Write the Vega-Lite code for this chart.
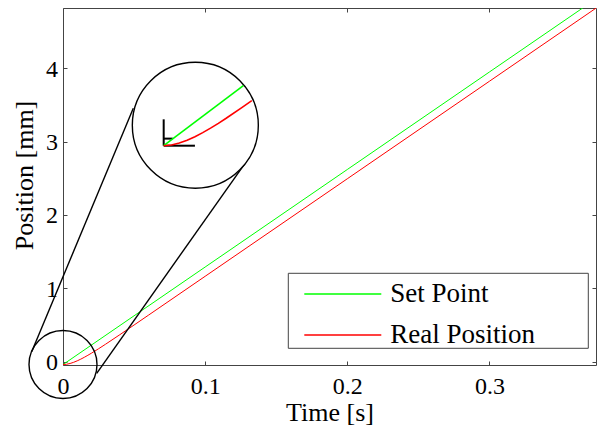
{
  "$schema": "https://vega.github.io/schema/vega-lite/v6.json",
  "width": 533,
  "height": 357,
  "autosize": {"type": "none"},
  "padding": {"left": 63, "top": 8, "right": 1, "bottom": 65},
  "background": "white",
  "config": {
    "font": "Liberation Serif, serif",
    "view": {"stroke": "#444", "strokeWidth": 1},
    "axis": {
      "domain": false,
      "grid": false,
      "tickColor": "#444",
      "tickSize": -4,
      "labelFlush": false,
      "labelFont": "Liberation Serif, serif",
      "labelFontSize": 24,
      "labelColor": "black",
      "titleFont": "Liberation Serif, serif",
      "titleFontSize": 26,
      "titleFontWeight": "normal",
      "titleColor": "black"
    },
    "legend": {
      "orient": "none",
      "legendX": 240.3,
      "legendY": 276,
      "padding": 0,
      "symbolType": "stroke",
      "symbolSize": 5929,
      "symbolStrokeWidth": 1.5,
      "clipHeight": 20,
      "rowPadding": 14,
      "labelOffset": 8,
      "labelFont": "Liberation Serif, serif",
      "labelFontSize": 27,
      "labelColor": "black",
      "labelLimit": 400
    }
  },
  "datasets": {
    "main": [
      {"t": 0, "pos": -0.04, "series": "Set Point"},
      {"t": 0.1, "pos": 1.29, "series": "Set Point"},
      {"t": 0.2, "pos": 2.62, "series": "Set Point"},
      {"t": 0.3, "pos": 3.95, "series": "Set Point"},
      {"t": 0.375, "pos": 4.9475, "series": "Set Point"},
      {"t": 0, "pos": -0.04, "series": "Real Position"},
      {"t": 0.0025, "pos": -0.036, "series": "Real Position"},
      {"t": 0.005, "pos": -0.0252, "series": "Real Position"},
      {"t": 0.0075, "pos": -0.0092, "series": "Real Position"},
      {"t": 0.01, "pos": 0.0108, "series": "Real Position"},
      {"t": 0.0125, "pos": 0.0338, "series": "Real Position"},
      {"t": 0.015, "pos": 0.0592, "series": "Real Position"},
      {"t": 0.0175, "pos": 0.0864, "series": "Real Position"},
      {"t": 0.02, "pos": 0.115, "series": "Real Position"},
      {"t": 0.025, "pos": 0.1752, "series": "Real Position"},
      {"t": 0.03, "pos": 0.238, "series": "Real Position"},
      {"t": 0.04, "pos": 0.3675, "series": "Real Position"},
      {"t": 0.05, "pos": 0.4993, "series": "Real Position"},
      {"t": 0.06, "pos": 0.6318, "series": "Real Position"},
      {"t": 0.1, "pos": 1.1637, "series": "Real Position"},
      {"t": 0.2, "pos": 2.4937, "series": "Real Position"},
      {"t": 0.3, "pos": 3.8237, "series": "Real Position"},
      {"t": 0.375, "pos": 4.8212, "series": "Real Position"}
    ],
    "inset": [
      {"t": 0, "pos": -0.04, "series": "Set Point"},
      {"t": 0.0255, "pos": 0.299, "series": "Set Point"},
      {"t": 0, "pos": -0.04, "series": "Real Position"},
      {"t": 0.0025, "pos": -0.036, "series": "Real Position"},
      {"t": 0.005, "pos": -0.0252, "series": "Real Position"},
      {"t": 0.0075, "pos": -0.0092, "series": "Real Position"},
      {"t": 0.01, "pos": 0.0108, "series": "Real Position"},
      {"t": 0.0125, "pos": 0.0338, "series": "Real Position"},
      {"t": 0.015, "pos": 0.0592, "series": "Real Position"},
      {"t": 0.0175, "pos": 0.0864, "series": "Real Position"},
      {"t": 0.02, "pos": 0.115, "series": "Real Position"},
      {"t": 0.025, "pos": 0.1752, "series": "Real Position"},
      {"t": 0.0282, "pos": 0.2152, "series": "Real Position"}
    ],
    "circles": [
      {"name": "zoom", "t": 0, "pos": -0.04},
      {"name": "inset", "t": 0.0931, "pos": 3.223}
    ],
    "connectors": [
      {"t1": -0.02202, "y1": 0.135, "t2": 0.04946, "y2": 3.455},
      {"t1": 0.02371, "y1": -0.159, "t2": 0.12805, "y2": 2.705}
    ],
    "insetAxes": [
      {"t1": 0, "y1": -0.04, "t2": 0, "y2": 0.109},
      {"t1": 0, "y1": -0.04, "t2": 0.01, "y2": -0.04},
      {"t1": 0, "y1": 0, "t2": 0.0029, "y2": 0}
    ],
    "legendBox": [
      {"t1": 0.15852, "y1": 1.2046, "t2": 0.36959, "y2": 0.1817}
    ]
  },
  "resolve": {"scale": {"x": "independent", "y": "independent"}},
  "layer": [
    {
      "data": {"name": "main"},
      "mark": {"type": "line", "clip": true, "strokeWidth": 1},
      "encoding": {
        "x": {"field": "t", "type": "quantitative", "scale": {"domain": [0, 0.375], "nice": false, "zero": false},
              "axis": {"orient": "bottom", "values": [0, 0.1, 0.2, 0.3], "format": "~g", "labelPadding": 13, "title": "Time [s]", "titlePadding": 1}},
        "y": {"field": "pos", "type": "quantitative", "scale": {"domain": [-0.046, 4.823], "nice": false, "zero": false},
              "axis": {"orient": "left", "values": [0, 1, 2, 3, 4], "format": "d", "labelPadding": 9.5, "labelOffset": 1, "title": "Position [mm]", "titleX": -26, "titleY": 167}},
        "color": {"field": "series", "type": "nominal", "sort": ["Set Point", "Real Position"],
                  "scale": {"domain": ["Set Point", "Real Position"], "range": ["#00ff00", "#ff0000"]},
                  "legend": {"title": null}}
      }
    },
    {
      "data": {"name": "main"},
      "mark": {"type": "line", "strokeOpacity": 0},
      "encoding": {
        "x": {"field": "t", "type": "quantitative", "scale": {"domain": [0, 0.375], "nice": false, "zero": false},
              "axis": {"orient": "top", "values": [0, 0.1, 0.2, 0.3], "labels": false, "title": null}},
        "y": {"field": "pos", "type": "quantitative", "scale": {"domain": [-0.046, 4.823], "nice": false, "zero": false},
              "axis": {"orient": "right", "values": [0, 1, 2, 3, 4], "labels": false, "title": null}}
      }
    },
    {
      "data": {"name": "connectors"},
      "mark": {"type": "rule", "stroke": "black", "strokeWidth": 1.4},
      "encoding": {
        "x": {"field": "t1", "type": "quantitative", "scale": {"domain": [0, 0.375], "nice": false, "zero": false}, "axis": null},
        "x2": {"field": "t2"},
        "y": {"field": "y1", "type": "quantitative", "scale": {"domain": [-0.046, 4.823], "nice": false, "zero": false}, "axis": null},
        "y2": {"field": "y2"}
      }
    },
    {
      "data": {"name": "circles"},
      "transform": [{"filter": "datum.name === 'zoom'"}],
      "mark": {"type": "point", "shape": "circle", "size": 4624, "filled": false, "stroke": "black", "strokeWidth": 1.4, "opacity": 1},
      "encoding": {
        "x": {"field": "t", "type": "quantitative", "scale": {"domain": [0, 0.375], "nice": false, "zero": false}, "axis": null},
        "y": {"field": "pos", "type": "quantitative", "scale": {"domain": [-0.046, 4.823], "nice": false, "zero": false}, "axis": null}
      }
    },
    {
      "data": {"name": "circles"},
      "transform": [{"filter": "datum.name === 'inset'"}],
      "mark": {"type": "point", "shape": "circle", "size": 15876, "filled": true, "fill": "white", "stroke": "black", "strokeWidth": 1.4, "opacity": 1, "fillOpacity": 1},
      "encoding": {
        "x": {"field": "t", "type": "quantitative", "scale": {"domain": [0, 0.375], "nice": false, "zero": false}, "axis": null},
        "y": {"field": "pos", "type": "quantitative", "scale": {"domain": [-0.046, 4.823], "nice": false, "zero": false}, "axis": null}
      }
    },
    {
      "data": {"name": "legendBox"},
      "mark": {"type": "rect", "fill": "white", "stroke": "#444", "strokeWidth": 1},
      "encoding": {
        "x": {"field": "t1", "type": "quantitative", "scale": {"domain": [0, 0.375], "nice": false, "zero": false}, "axis": null},
        "x2": {"field": "t2"},
        "y": {"field": "y1", "type": "quantitative", "scale": {"domain": [-0.046, 4.823], "nice": false, "zero": false}, "axis": null},
        "y2": {"field": "y2"}
      }
    },
    {
      "data": {"name": "insetAxes"},
      "mark": {"type": "rule", "stroke": "black", "strokeWidth": 2},
      "encoding": {
        "x": {"field": "t1", "type": "quantitative", "scale": {"domain": [-0.03223, 0.13838], "nice": false, "zero": false}, "axis": null},
        "x2": {"field": "t2"},
        "y": {"field": "y1", "type": "quantitative", "scale": {"domain": [-1.279, 0.738], "nice": false, "zero": false}, "axis": null},
        "y2": {"field": "y2"}
      }
    },
    {
      "data": {"name": "inset"},
      "transform": [{"filter": "datum.series === 'Set Point'"}],
      "mark": {"type": "line", "stroke": "#00ff00", "strokeWidth": 1.6},
      "encoding": {
        "x": {"field": "t", "type": "quantitative", "scale": {"domain": [-0.03223, 0.13838], "nice": false, "zero": false}, "axis": null},
        "y": {"field": "pos", "type": "quantitative", "scale": {"domain": [-1.279, 0.738], "nice": false, "zero": false}, "axis": null}
      }
    },
    {
      "data": {"name": "inset"},
      "transform": [{"filter": "datum.series === 'Real Position'"}],
      "mark": {"type": "line", "stroke": "#ff0000", "strokeWidth": 1.6},
      "encoding": {
        "x": {"field": "t", "type": "quantitative", "scale": {"domain": [-0.03223, 0.13838], "nice": false, "zero": false}, "axis": null},
        "y": {"field": "pos", "type": "quantitative", "scale": {"domain": [-1.279, 0.738], "nice": false, "zero": false}, "axis": null}
      }
    }
  ]
}
